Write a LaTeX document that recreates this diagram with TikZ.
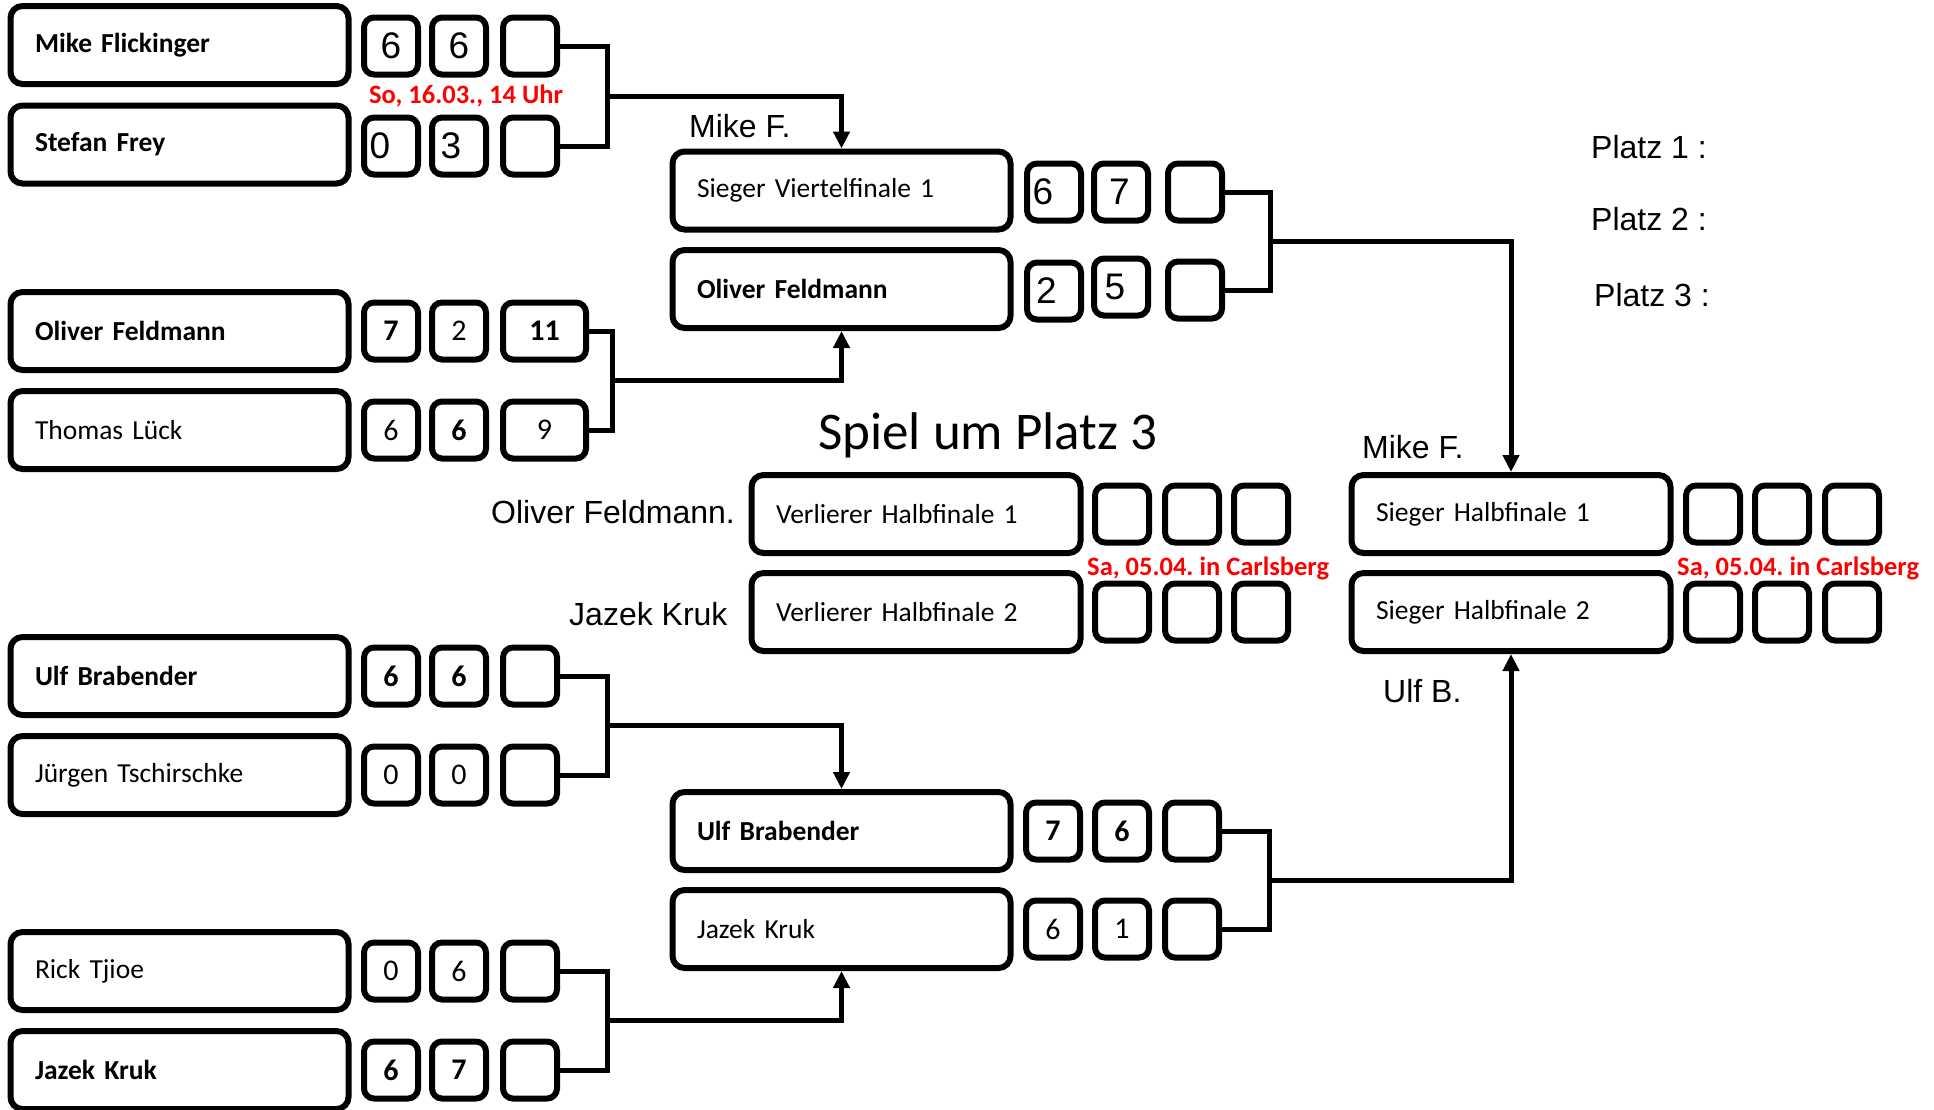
\documentclass[tikz,border=0pt]{standalone}
\usepackage{fontspec}
\setmainfont{Carlito}
\newfontfamily\arialf{Liberation Sans}
\usetikzlibrary{arrows.meta}
\frenchspacing
\tikzset{
  box/.style={draw, line width=6pt, rounded corners=12pt, minimum height=78pt,
    inner ysep=0pt, inner xsep=24.5pt, align=left, text width=#1,
    font=\fontsize{27.5}{30}\selectfont},
  nm/.style={box=289pt},
  nmthird/.style={box=280pt},
  nmfinal/.style={box=270pt},
  sc/.style={draw, line width=6pt, rounded corners=10pt, minimum width=54pt,
    minimum height=57pt, inner sep=0pt, font=\fontsize{30}{30}\selectfont},
  scw/.style={sc, minimum width=83pt},
  scA/.style={sc, font=\arialf\fontsize{37}{37}\selectfont},
  conn/.style={line width=5pt},
  arr/.style={conn, -{Triangle[width=16pt,length=17pt]}},
  lbl/.style={anchor=base west, inner sep=0pt, font=\arialf\fontsize{32}{36}\selectfont},
  red/.style={anchor=base west, inner sep=0pt, text=red, font=\fontsize{26.5}{30}\selectfont\bfseries},
  title/.style={anchor=base west, inner sep=0pt, font=\fontsize{53}{60}\selectfont}
}
\begin{document}
\begin{tikzpicture}[x=1pt,y=-1pt]
\useasboundingbox[fill=white] (0,0) rectangle (1934,1109);

% ---- column 1 names
\node[nm] (n1) at (179.5,45)  {\textbf{Mike Flickinger}};
\node[nm] (n2) at (179.5,144.5) {\textbf{Stefan Frey}};
\node[nm] (n3) at (179.5,331) {\textbf{Oliver Feldmann}};
\node[nm] (n4) at (179.5,430) {Thomas Lück};
\node[nm] (n5) at (179.5,676) {\textbf{Ulf Brabender}};
\node[nm] (n6) at (179.5,775) {Jürgen Tschirschke};
\node[nm] (n7) at (179.5,971) {Rick Tjioe};
\node[nm] (n8) at (179.5,1070) {\textbf{Jazek Kruk}};

% ---- column 1 scores
\node[scA] (s11) at (391,46) {6};
\node[scA] (s12) at (459,46) {6};
\node[sc]  (s13) at (530,46) {};
\node[scA] (s21) at (391,146) {0\hspace*{22pt}};
\node[scA] (s22) at (459,146) {3\hspace*{16pt}};
\node[sc]  (s23) at (530,146) {};
\node[sc]  (s31) at (391,331) {\textbf{7}};
\node[sc]  (s32) at (459,331) {2};
\node[scw] (s33) at (544.5,331) {\textbf{11}};
\node[sc]  (s41) at (391,430) {6};
\node[sc]  (s42) at (459,430) {\textbf{6}};
\node[scw] (s43) at (544.5,430) {9};
\node[sc]  (s51) at (391,676) {\textbf{6}};
\node[sc]  (s52) at (459,676) {\textbf{6}};
\node[sc]  (s53) at (530,676) {};
\node[sc]  (s61) at (391,775) {0};
\node[sc]  (s62) at (459,775) {0};
\node[sc]  (s63) at (530,775) {};
\node[sc]  (s71) at (391,971) {0};
\node[sc]  (s72) at (459,971) {6};
\node[sc]  (s73) at (530,971) {};
\node[sc]  (s81) at (391,1070) {\textbf{6}};
\node[sc]  (s82) at (459,1070) {\textbf{7}};
\node[sc]  (s83) at (530,1070) {};

% ---- column 2
\node[nm] (m1) at (841.5,190.5) {Sieger Viertelfinale 1};
\node[nm] (m2) at (841.5,289)   {\textbf{Oliver Feldmann}};
\node[nm] (m3) at (841.5,831)   {\textbf{Ulf Brabender}};
\node[nm] (m4) at (841.5,929)   {Jazek Kruk};

\node[scA] (t11) at (1054,192) {6\hspace*{22pt}};
\node[scA] (t12) at (1121,192) {7\hspace*{3pt}};
\node[sc]  (t13) at (1195,192) {};
\node[scA] (t21) at (1054,291) {2\hspace*{15pt}};
\node[scA] (t22) at (1121,287) {5\hspace*{12pt}};
\node[sc]  (t23) at (1195,290) {};
\node[sc]  (t31) at (1053,831) {\textbf{7}};
\node[sc]  (t32) at (1122,831) {\textbf{6}};
\node[sc]  (t33) at (1192,831) {};
\node[sc]  (t41) at (1053,929) {6};
\node[sc]  (t42) at (1122,929) {1};
\node[sc]  (t43) at (1192,929) {};

% ---- third place
\node[nmthird] (p1) at (916,514) {Verlierer Halbfinale 1};
\node[nmthird] (p2) at (916,612) {Verlierer Halbfinale 2};
\node[sc] (u11) at (1122,514) {};
\node[sc] (u12) at (1192,514) {};
\node[sc] (u13) at (1261,514) {};
\node[sc] (u21) at (1122,612) {};
\node[sc] (u22) at (1192,612) {};
\node[sc] (u23) at (1261,612) {};

% ---- final
\node[nmfinal] (f1) at (1511,514) {Sieger Halbfinale 1};
\node[nmfinal] (f2) at (1511,612) {Sieger Halbfinale 2};
\node[sc] (v11) at (1713,514) {};
\node[sc] (v12) at (1782,514) {};
\node[sc] (v13) at (1852,514) {};
\node[sc] (v21) at (1713,612) {};
\node[sc] (v22) at (1782,612) {};
\node[sc] (v23) at (1852,612) {};

% ---- connectors
\coordinate (j1) at (607,96.5);
\coordinate (j2) at (612,380.5);
\coordinate (j3) at (607,725.5);
\coordinate (j4) at (607,1020.5);
\coordinate (k1) at (1270,241);
\coordinate (k2) at (1269,880);

\draw[conn] (s13.east) -| (j1) |- (s23.east);
\draw[arr] (j1) -| (m1.north);
\draw[conn] (s33.east) -| (j2) |- (s43.east);
\draw[arr] (j2) -| (m2.south);
\draw[conn] (s53.east) -| (j3) |- (s63.east);
\draw[arr] (j3) -| (m3.north);
\draw[conn] (s73.east) -| (j4) |- (s83.east);
\draw[arr] (j4) -| (m4.south);
\draw[conn] (t13.east) -| (k1) |- (t23.east);
\draw[arr] (k1) -| (f1.north);
\draw[conn] (t33.east) -| (k2) |- (t43.east);
\draw[arr] (k2) -| (f2.south);

% ---- labels
\node[red] (d1) at (369,103.5) {So, 16.03., 14 Uhr};
\node[red] (d2) at (1087,575) {Sa, 05.04. in Carlsberg};
\node[red] (d3) at (1677,575) {Sa, 05.04. in Carlsberg};

\node[lbl] (w1) at (689,137) {Mike F.};
\node[lbl] (w2) at (1362,458) {Mike F.};
\node[lbl] (w3) at (491,523) {Oliver Feldmann.};
\node[lbl] (w4) at (569,625) {Jazek Kruk};
\node[lbl] (w5) at (1383,702) {Ulf B.};
\node[lbl] (pl1) at (1591,158) {Platz 1 :};
\node[lbl] (pl2) at (1591,230) {Platz 2 :};
\node[lbl] (pl3) at (1594,306) {Platz 3 :};
\node[title] (tt) at (818,449) {Spiel um Platz 3};
\end{tikzpicture}
\end{document}
